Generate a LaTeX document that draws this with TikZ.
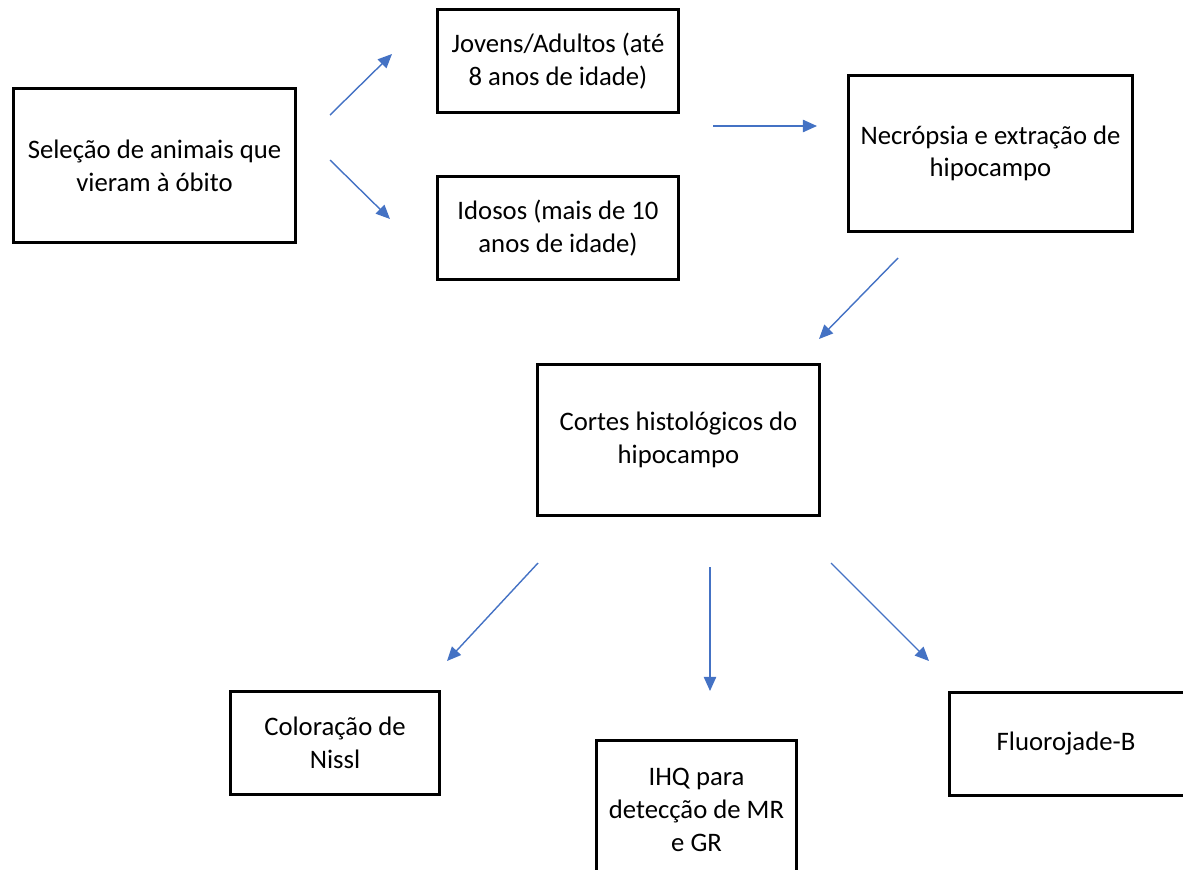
\documentclass[tikz,border=0pt]{standalone}
\usepackage{fontspec}
\setmainfont{Carlito}
\usetikzlibrary{arrows.meta}

\definecolor{arrowblue}{RGB}{68,114,196}

\tikzset{
    box/.style={draw=black, line width=1.7pt, align=center, inner sep=0pt,
        font=\fontsize{15.2}{18.6}\selectfont},
    flow/.style={draw=arrowblue, line width=0.8pt,
        -{Triangle[length=8pt,width=7pt]}}
}

\begin{document}
\begin{tikzpicture}[x=0.02cm,y=-0.02cm]

    \def\page{(0,0) rectangle (1183,869)}
    \useasboundingbox \page;
    \clip \page;

    %boxes:
    \node[box, minimum width=5.64cm, minimum height=3.08cm] (selecao) at (154.5,165.5)
        {Seleção de animais que\\vieram à óbito};
    \node[box, minimum width=4.82cm, minimum height=2.06cm] (jovens) at (558,61)
        {Jovens/Adultos (até\\8 anos de idade)};
    \node[box, minimum width=4.82cm, minimum height=2.06cm] (idosos) at (558,228)
        {Idosos (mais de 10\\anos de idade)};
    \node[box, minimum width=5.68cm, minimum height=3.12cm] (necropsia) at (990.5,153.5)
        {Necrópsia e extração de\\hipocampo};
    \node[box, minimum width=5.64cm, minimum height=3.02cm] (cortes) at (678.5,440)
        {Cortes histológicos do\\hipocampo};
    \node[box, minimum width=4.18cm, minimum height=2.06cm] (nissl) at (335,743)
        {Coloração de\\Nissl};
    \node[box, minimum width=4.00cm, minimum height=2.80cm] (ihq) at (696.5,810)
        {IHQ para\\detecção de MR\\e GR};
    \node[box, minimum width=5.40cm, minimum height=2.06cm] (fluoro) at (1084,744)
        {\hspace*{-0.72cm}Fluorojade-B};

    %arrow ends:
    \coordinate (a1) at (330,115);  \coordinate (b1) at (392,54);
    \coordinate (a2) at (330,160);  \coordinate (b2) at (390,219);
    \coordinate (a3) at (713,126);  \coordinate (b3) at (817,126);
    \coordinate (a4) at (898,258);  \coordinate (b4) at (819,339);
    \coordinate (a5) at (538,563);  \coordinate (b5) at (447,661);
    \coordinate (a6) at (710,567);  \coordinate (b6) at (710,691);
    \coordinate (a7) at (831,563);  \coordinate (b7) at (929,661);

    %arrows:
    \draw[flow] (a1) -- (b1);
    \draw[flow] (a2) -- (b2);
    \draw[flow] (a3) -- (b3);
    \draw[flow] (a4) -- (b4);
    \draw[flow] (a5) -- (b5);
    \draw[flow] (a6) -- (b6);
    \draw[flow] (a7) -- (b7);

\end{tikzpicture}
\end{document}
